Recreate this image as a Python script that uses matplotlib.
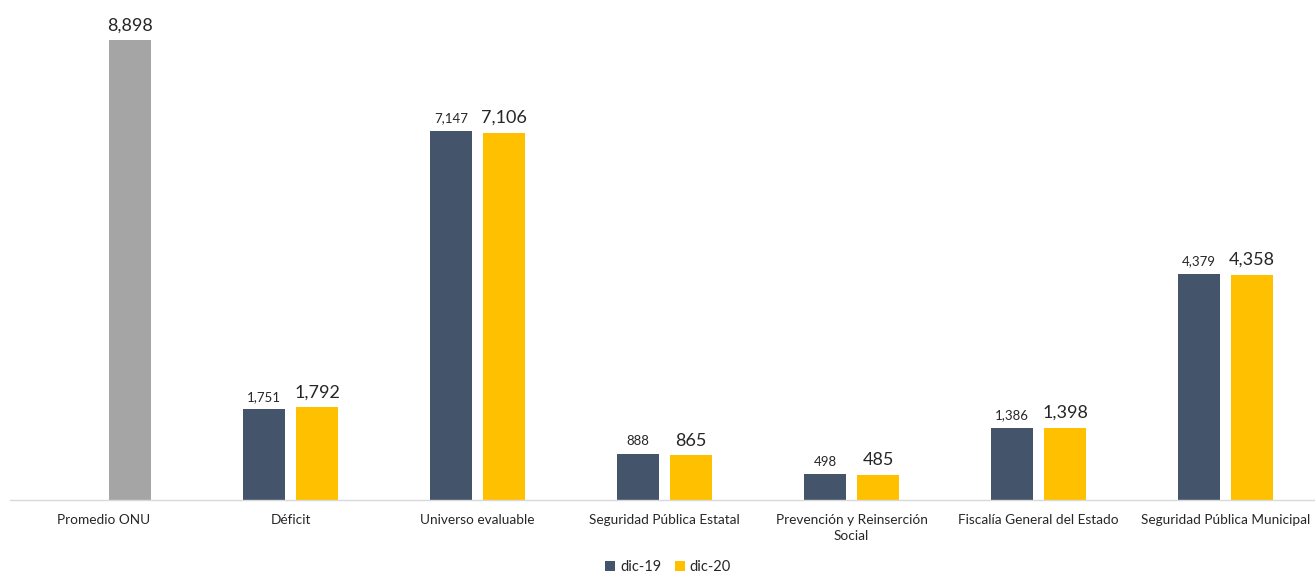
import matplotlib
matplotlib.use("Agg")
import matplotlib.pyplot as plt
import numpy as np

categories = ["Promedio ONU", "Déficit", "Universo evaluable", "Seguridad Pública Estatal",
              "Prevención y Reinserción\nSocial", "Fiscalía General del Estado",
              "Seguridad Pública Municipal"]
dic19 = [None, 1751, 7147, 888, 498, 1386, 4379]
dic20 = [8898, 1792, 7106, 865, 485, 1398, 4358]
series_names = ["dic-19", "dic-20"]

plt.rcParams['font.family'] = ['Lato', 'DejaVu Sans']

fig = plt.figure(figsize=(13.15, 5.79), dpi=100)
ax = fig.add_axes([10/1315, 79/579, 1309/1315, 1 - 79/579])

x = np.arange(len(categories))
w = 0.225
off = 0.1417
c19 = "#44546A"
c20 = "#FFC000"
cgray = "#A5A5A5"

for i in range(len(categories)):
    if dic19[i] is not None:
        ax.bar(x[i] - off, dic19[i], w, color=c19, label=series_names[0] if i == 1 else None)
        ax.text(x[i] - off, dic19[i] + 130, f"{dic19[i]:,}", ha="center", va="bottom",
                fontsize=9.5, color="#262626")
    col = cgray if dic19[i] is None else c20
    ax.bar(x[i] + off, dic20[i], w, color=col, label=series_names[1] if i == 1 else None)
    ax.text(x[i] + off, dic20[i] + 130, f"{dic20[i]:,}", ha="center", va="bottom",
            fontsize=13, color="#262626")

ax.set_xlim(-0.5, len(categories) - 0.5)
ax.set_ylim(0, 8898 * 500 / 460)
ax.set_xticks(x)
ax.set_xticklabels(categories, fontsize=9.8, color="#262626", linespacing=1.45)
ax.tick_params(axis="x", length=0, pad=10)
ax.set_yticks([])
for s in ["top", "right", "left"]:
    ax.spines[s].set_visible(False)
ax.spines["bottom"].set_color("#D9D9D9")
ax.spines["bottom"].set_linewidth(1)

leg = fig.legend(loc="lower center", bbox_to_anchor=(0.508, -0.014), ncol=2, frameon=False,
                 fontsize=10.5, handlelength=0.7, handleheight=0.7, handletextpad=0.35,
                 columnspacing=0.9)
for t in leg.get_texts():
    t.set_color("#262626")

fig.savefig("out.png", dpi=100)
